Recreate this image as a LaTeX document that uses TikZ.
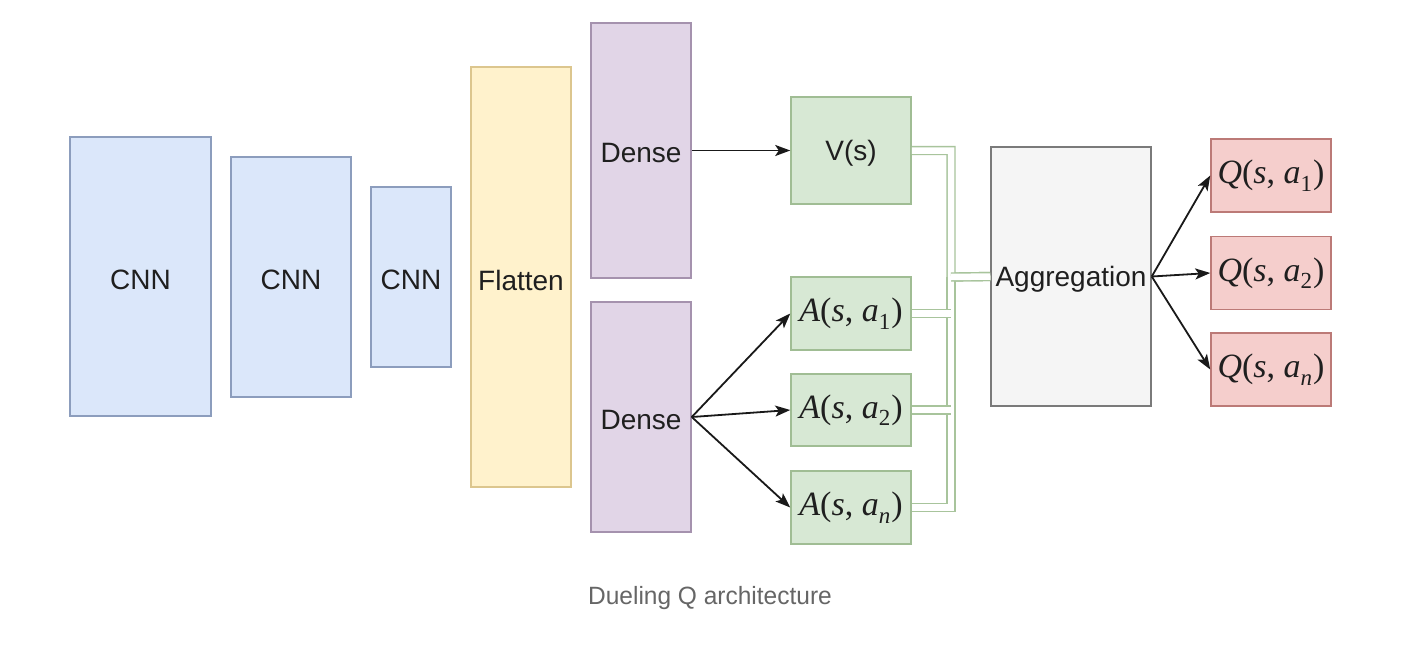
\documentclass[tikz,border=0pt]{standalone}
\usepackage{fontspec}
\setmainfont{Liberation Sans}
\newfontfamily\mathserif{Liberation Serif}
\usetikzlibrary{arrows.meta}
\definecolor{bluefill}{HTML}{DBE7FA}\definecolor{bluedraw}{HTML}{8C9DBD}
\definecolor{yelfill}{HTML}{FFF2CC}\definecolor{yeldraw}{HTML}{DCC68E}
\definecolor{purfill}{HTML}{E1D5E7}\definecolor{purdraw}{HTML}{A592AE}
\definecolor{grnfill}{HTML}{D7E8D4}\definecolor{grndraw}{HTML}{A0BD94}
\definecolor{linkdraw}{HTML}{A8C49C}
\definecolor{grayfill}{HTML}{F5F5F5}\definecolor{graydraw}{HTML}{7A7A7A}
\definecolor{redfill}{HTML}{F5CECC}\definecolor{reddraw}{HTML}{BC7A77}
\definecolor{captext}{HTML}{666666}
\newcommand{\mlab}[2]{{\mathserif\itshape #1}{\mathserif(}{\mathserif\itshape s}{\mathserif,\ }{\mathserif\itshape a}{\mathserif\raisebox{-0.22em}{\fontsize{23}{23}\selectfont\upshape #2}}{\mathserif\kern1pt)}}
\newcommand{\lowr}[1]{\raisebox{-3pt}[\height][\depth]{#1}}
\tikzset{
  box/.style={draw, line width=1.5pt, inner sep=0pt, font=\fontsize{28}{32}\selectfont, text=black!88},
  cnn/.style={box, fill=bluefill, draw=bluedraw},
  flat/.style={box, fill=yelfill, draw=yeldraw},
  dense/.style={box, fill=purfill, draw=purdraw},
  grn/.style={box, fill=grnfill, draw=grndraw, minimum width=120pt},
  agg/.style={box, fill=grayfill, draw=graydraw},
  qbox/.style={box, fill=redfill, draw=reddraw, minimum width=120pt, minimum height=73pt},
  mathfont/.style={font=\fontsize{34}{38}\selectfont},
  arr/.style={-{Stealth[length=15pt,width=11pt,inset=3.5pt]}, line width=1.8pt, black!90},
  link/.style={draw=linkdraw, line width=1.4pt, double=white, double distance=6.5pt},
}
\begin{document}
\begin{tikzpicture}[x=1pt,y=-1pt]
\useasboundingbox[fill=white] (0,0) rectangle (1408,648);
\node[cnn, minimum width=141pt, minimum height=279pt] (c1) at (140.5,276.5) {\lowr{CNN}};
\node[cnn, minimum width=120pt, minimum height=240pt] (c2) at (291,277) {\lowr{CNN}};
\node[cnn, minimum width=80pt, minimum height=180pt] (c3) at (411,277) {\lowr{CNN}};
\node[flat, minimum width=100pt, minimum height=420pt] (fl) at (521,277) {\lowr{Flatten}};
\node[dense, minimum width=100pt, minimum height=255pt] (d1) at (641,150.5) {\lowr{Dense}};
\node[dense, minimum width=100pt, minimum height=230pt] (d2) at (641,417) {\lowr{Dense}};
\node[grn, minimum height=107pt] (v) at (851,150.5) {\lowr{V(s)}};
\node[grn, minimum height=73pt, mathfont] (a1) at (851,313.5) {\mlab{A}{1}};
\node[grn, minimum height=72pt, mathfont] (a2) at (851,410) {\mlab{A}{2}};
\node[grn, minimum height=73pt, mathfont] (an) at (851,507.5) {\mlab{A}{\itshape n}};
\node[agg, minimum width=160pt, minimum height=259pt] (ag) at (1071,276.5) {\lowr{Aggregation}};
\node[qbox, mathfont] (q1) at (1271,175.5) {\mlab{Q}{1}};
\node[qbox, mathfont] (q2) at (1271,273) {\mlab{Q}{2}};
\node[qbox, mathfont] (qn) at (1271,369.5) {\mlab{Q}{\itshape n}};
\node[text=captext, font=\fontsize{25}{28}\selectfont, xscale=0.98] (cap) at (710,598) {Dueling Q architecture};
% links to aggregation
\coordinate (jx) at (951,277);
\draw[link] (v.east) -- (v.east -| jx) -- (jx) -- (ag.west);
\draw[link] (an.east) -- (an.east -| jx) -- (jx);
\draw[link] (a2.east) -- (a2.east -| jx);
\draw[link] (a1.east) -- (a1.east -| jx);
\draw[link] (ag.west) -- (jx);
% arrows
\draw[arr] (d1.east) -- (v.west);
\draw[arr] (d2.east) -- (a1.west);
\draw[arr] (d2.east) -- (a2.west);
\draw[arr] (d2.east) -- (an.west);
\draw[arr] (ag.east) -- (q1.west);
\draw[arr] (ag.east) -- (q2.west);
\draw[arr] (ag.east) -- (qn.west);
\end{tikzpicture}
\end{document}
